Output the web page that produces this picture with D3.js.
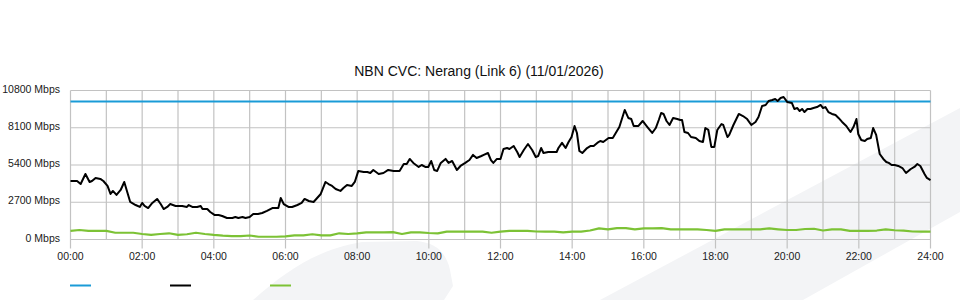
<!DOCTYPE html>
<html>
<head>
<meta charset="utf-8">
<script src="https://cdn.jsdelivr.net/npm/d3@7"></script>
<style>
  body { margin: 0; background: #fff; }
  svg { display: block; font-family: "Liberation Sans", Arial, sans-serif; }
</style>
</head>
<body>
<div id="chart"></div>
<script>
// link capacity (Mbps)
const capacityMbps = 10000;

// download traffic, sampled off the chart (minutes since midnight / Mbps)
const trafficTimes = [
  0, 11, 17, 25, 32, 36, 42, 50, 55, 62, 67, 71, 77, 84, 90, 97, 100, 109, 116, 120,
  124, 130, 137, 145, 151, 156, 162, 167, 176, 187, 195, 198, 204, 212, 218, 221, 229, 234, 241, 248,
  254, 262, 271, 276, 281, 288, 293, 300, 306, 314, 321, 329, 338, 343, 348, 352, 357, 365, 371, 380,
  387, 392, 399, 407, 413, 419, 427, 432, 438, 444, 452, 457, 463, 471, 476, 482, 491, 497, 502, 507,
  516, 524, 532, 541, 551, 558, 563, 568, 574, 583, 588, 594, 599, 604, 609, 614, 620, 628, 633, 639,
  647, 653, 661, 668, 674, 680, 688, 692, 699, 704, 708, 714, 720, 725, 731, 735, 742, 748, 752, 759,
  766, 773, 779, 783, 788, 792, 800, 807, 814, 817, 823, 829, 834, 839, 844, 848, 852, 857, 865, 871,
  876, 882, 887, 892, 901, 908, 913, 919, 928, 934, 939, 943, 951, 958, 966, 974, 980, 985, 989, 993,
  998, 1003, 1009, 1016, 1021, 1024, 1028, 1034, 1039, 1047, 1053, 1059, 1063, 1068, 1073, 1078, 1083, 1090, 1093, 1100,
  1103, 1110, 1119, 1126, 1133, 1140, 1147, 1152, 1158, 1164, 1169, 1175, 1180, 1184, 1189, 1194, 1200, 1208, 1212, 1217,
  1221, 1225, 1229, 1234, 1239, 1244, 1250, 1256, 1260, 1264, 1269, 1275, 1281, 1286, 1292, 1299, 1306, 1311, 1316, 1319,
  1324, 1330, 1334, 1340, 1344, 1349, 1355, 1361, 1366, 1370, 1375, 1380, 1386, 1393, 1399, 1407, 1413, 1418, 1423, 1430,
  1434, 1440
];
const trafficMbps = [
  4240, 4240, 4020, 4750, 4170, 4240, 4460, 4390, 4240, 3880, 3300, 3520, 3230, 3590, 4170, 3150, 2720, 2500, 2360, 2650,
  2430, 2280, 2650, 2940, 2570, 2210, 2360, 2570, 2430, 2430, 2360, 2500, 2360, 2360, 2430, 2210, 2210, 1990, 1780, 1780,
  1700, 1560, 1560, 1630, 1560, 1630, 1560, 1630, 1850, 1850, 1920, 2070, 2280, 2280, 2280, 3010, 2570, 2360, 2360, 2500,
  2650, 2940, 2790, 2720, 3010, 3300, 4170, 4020, 3880, 3660, 3520, 3730, 3950, 3880, 4170, 4970, 4890, 4890, 4820, 5040,
  4750, 4820, 5040, 4970, 4970, 5470, 5470, 5840, 5550, 5260, 5400, 5260, 5260, 5690, 5040, 4970, 5550, 5840, 5550, 5690,
  5040, 5330, 5550, 5760, 6130, 5910, 6050, 6130, 6270, 5760, 5550, 5840, 5840, 6560, 6630, 6560, 6780, 6340, 5980, 6490,
  6920, 6490, 5980, 6050, 6630, 6270, 6340, 6340, 6340, 6630, 7000, 6630, 7070, 7430, 8230, 7720, 6420, 6270, 6630, 6780,
  6780, 7000, 7140, 7070, 7360, 7360, 7720, 8150, 9390, 8810, 8730, 8230, 8230, 8590, 8150, 7720, 8080, 8660, 9170, 9100,
  8590, 8300, 8810, 8730, 8660, 8660, 7790, 7720, 7430, 7360, 7140, 7070, 8080, 7940, 6710, 6710, 7940, 8370, 8300, 7430,
  7580, 8300, 9100, 8950, 8730, 8300, 8520, 8880, 9680, 9750, 10040, 10110, 10180, 10040, 10260, 10330, 9970, 9890, 9460, 9530,
  9310, 9460, 9240, 9460, 9460, 9530, 9600, 9750, 9530, 9600, 9240, 9100, 9020, 8810, 8520, 8230, 7790, 8150, 8730, 7650,
  7210, 7140, 7290, 7360, 8080, 7580, 6200, 5840, 5620, 5550, 5400, 5400, 5330, 5180, 4820, 5110, 5260, 5470, 5330, 4750,
  4460, 4310
];

// upload traffic, every 15 minutes (Mbps)
const uploadMbps = [
  620, 690, 620, 620,  620, 490, 490, 490,  400, 330, 400, 450,  330, 380, 490, 400,
  330, 280, 250, 250,  290, 200, 200, 200,  220, 300, 300, 380,  300, 300, 450, 400,
  440, 520, 520, 520,  540, 400, 520, 520,  470, 440, 570, 570,  570, 570, 570, 490,
  570, 620, 620, 620,  580, 570, 570, 520,  570, 570, 650, 810,  730, 830, 830, 730,
  810, 810, 830, 740,  740, 740, 740, 690,  620, 730, 740, 740,  740, 740, 800, 740,
  690, 690, 760, 780,  650, 730, 730, 620,  620, 620, 650, 740,  670, 650, 580, 570,
  570
];
const uploadTimes = d3.range(0, 1441, 15);

const yTicks = [0, 2700, 5400, 8100, 10800];
const hourTicks = d3.range(0, 1441, 60);
const legendColors = ["#1a9bd7", "#000000", "#7cc235"];

const W = 960, H = 300;
const plotLeft = 70.5, plotRight = 930.5, plotTop = 90.5, plotBottom = 239.5;

const svg = d3.select("#chart").append("svg")
  .attr("width", W).attr("height", H);

// light watermark shapes behind the chart
svg.append("path")
  .attr("d", "M253,300 C285,272 315,250 362,242 L417,241 C436,243 446,252 450,270 L453,286 L444,300 Z")
  .attr("fill", "#f3f4f6");
svg.append("path")
  .attr("d", "M600,300 L960,108 L960,212 L803,300 Z")
  .attr("fill", "#f3f4f6");

const x = d3.scaleLinear().domain([0, 1440]).range([plotLeft, plotRight]);
const y = d3.scaleLinear().domain([0, 10800]).range([plotBottom, plotTop]);

// title
svg.append("text")
  .attr("x", 479).attr("y", 75.5)
  .attr("text-anchor", "middle")
  .style("font-size", "14px").attr("fill", "#111")
  .text("NBN CVC: Nerang (Link 6) (11/01/2026)");

// vertical grid (hourly), labelled ticks every 2h hang below
svg.append("g").selectAll("line")
  .data(hourTicks)
  .join("line")
  .attr("x1", d => x(d)).attr("x2", d => x(d))
  .attr("y1", plotTop)
  .attr("y2", d => d % 120 === 0 ? plotBottom + 9 : plotBottom)
  .attr("stroke", "#c2c2c2").attr("stroke-width", 1.2);

// horizontal grid
svg.append("g").selectAll("line")
  .data(yTicks)
  .join("line")
  .attr("x1", plotLeft).attr("x2", plotRight)
  .attr("y1", d => y(d)).attr("y2", d => y(d))
  .attr("stroke", "#c2c2c2").attr("stroke-width", 1.2);

// y labels
svg.append("g").selectAll("text")
  .data(yTicks)
  .join("text")
  .attr("x", 60).attr("y", d => y(d) + 2)
  .attr("text-anchor", "end")
  .style("font-size", "10.5px").attr("fill", "#1a1a1a")
  .text(d => d + " Mbps");

// x labels
svg.append("g").selectAll("text")
  .data(hourTicks.filter(d => d % 120 === 0))
  .join("text")
  .attr("x", d => x(d)).attr("y", 259.5)
  .attr("text-anchor", "middle")
  .style("font-size", "10.5px").attr("fill", "#1a1a1a")
  .text(d => d3.format("02")(d / 60) + ":00");

const line = d3.line().x(d => x(d[0])).y(d => y(d[1]));

// upload
svg.append("path")
  .datum(d3.zip(uploadTimes, uploadMbps))
  .attr("d", line)
  .attr("fill", "none")
  .attr("stroke", legendColors[2]).attr("stroke-width", 2.2)
  .attr("stroke-linejoin", "round");

// capacity
svg.append("line")
  .attr("x1", x(0)).attr("x2", x(1440))
  .attr("y1", y(capacityMbps)).attr("y2", y(capacityMbps))
  .attr("stroke", legendColors[0]).attr("stroke-width", 2);

// download
svg.append("path")
  .datum(d3.zip(trafficTimes, trafficMbps))
  .attr("d", line)
  .attr("fill", "none")
  .attr("stroke", legendColors[1]).attr("stroke-width", 2)
  .attr("stroke-linejoin", "round");

// legend (swatches only)
svg.append("g").selectAll("line")
  .data(legendColors)
  .join("line")
  .attr("x1", (d, i) => 70 + i * 100).attr("x2", (d, i) => 91 + i * 100)
  .attr("y1", 285.5).attr("y2", 285.5)
  .attr("stroke", d => d).attr("stroke-width", 2);
</script>
</body>
</html>
